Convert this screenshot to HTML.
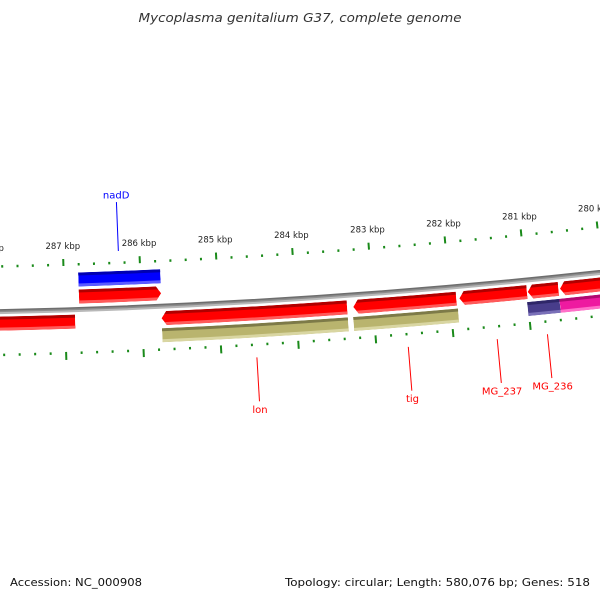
<!DOCTYPE html>
<html><head><meta charset="utf-8"><style>
html,body{margin:0;padding:0;background:#fff;}
svg{display:block;font-family:"DejaVu Sans","Liberation Sans",sans-serif;}
</style></head><body>
<svg id="map" width="600" height="600" viewBox="0 0 600 600" xmlns="http://www.w3.org/2000/svg">
<rect width="600" height="600" fill="#fff"/>
<text x="300" y="22" text-anchor="middle" font-size="12.5" font-style="italic" fill="#333" textLength="323" lengthAdjust="spacingAndGlyphs">Mycoplasma genitalium G37, complete genome</text>
<g id="g-ticks"></g>
<g id="g-backbone"></g>
<g id="g-feat"></g>
<g id="g-labels"></g>
<text x="10" y="586" font-size="11" fill="#111" textLength="132" lengthAdjust="spacingAndGlyphs">Accession: NC_000908</text>
<text x="590" y="586" text-anchor="end" font-size="11" fill="#111" textLength="305" lengthAdjust="spacingAndGlyphs">Topology: circular; Length: 580,076 bp; Genes: 518</text>
</svg>
<script>
// ---- data (kbp) ----
const majorTicks = [288, 287, 286, 285, 284, 283, 282, 281, 280];
const tickLabels = ["288 kbp","287 kbp","286 kbp","285 kbp","284 kbp","283 kbp","282 kbp","281 kbp","280 kbp"];
const tickStart = 289.8, tickEnd = 279.4, minorStep = 0.2;
const featStart = [286.81, 286.81, 288.6, 285.75, 283.26, 281.88, 280.99, 280.57, 285.75, 283.27, 281.01, 280.59];
const featEnd   = [285.74, 285.74, 286.87, 283.34, 281.92, 281.00, 280.59, 279.3, 283.34, 281.91, 280.59, 279.3];
const featStrand= [0, 1, 0, -1, -1, -1, -1, -1, 0, 0, 0, 0];
const featTrack = [0, 1, 2, 2, 2, 2, 2, 2, 3, 3, 3, 3];
const featType  = ["gene","cds","cds","cds","cds","cds","cds","cds","other","other","purple","pink"];
const labelText = ["nadD","lon","tig","MG_237","MG_236"];
const labelFeat = [1, 3, 4, 5, 6];
const labelSide = [-1, 1, 1, 1, 1];

// ---- geometry ----
const CX = -150, CY = -6586.7, R = 6900, K0 = 289.79, S = 77/6900;
const NS = "http://www.w3.org/2000/svg";
function ang(k){ return (K0 - k) * S; }
function pt(r, k){ const a = ang(k); return [CX + r*Math.sin(a), CY + r*Math.cos(a)]; }
function f(p){ return p[0].toFixed(2)+","+p[1].toFixed(2); }
function mk(tag, attrs, parent){ const e = document.createElementNS(NS, tag); for (const k in attrs) e.setAttribute(k, attrs[k]); parent.appendChild(e); return e; }
function arcPath(r, k1, k2){ return "M"+f(pt(r,k1))+" A"+r+","+r+" 0 0 0 "+f(pt(r,k2)); }
const trackR = [[R-37, R-23], [R-20, R-6], [R+5, R+19], [R+22, R+36]];
const colors = {
  gene:["#0000b0","#0000ff","#5a5aff"], cds:["#b00000","#ff0000","#ff5a5a"],
  other:["#7d7a48","#b9b46e","#d9d6a2"], purple:["#2e2668","#483d8b","#7a70b8"],
  pink:["#b00a72","#ee1aa0","#ff70c8"]
};

// ---- ticks ----
const gT = document.getElementById('g-ticks');
const nT = Math.round((tickStart - tickEnd)/minorStep);
for (let i = 0; i <= nT; i++) {
  const k = +(tickStart - i*minorStep).toFixed(2);
  const major = Math.abs(k - Math.round(k)) < 1e-6;
  // outer ring
  let a = mk('line', {x1:pt(R-44,k)[0], y1:pt(R-44,k)[1], x2:pt(major?R-51:R-46.5,k)[0], y2:pt(major?R-51:R-46.5,k)[1], stroke:"#1a8a1a", "stroke-width":2}, gT);
  
  
  let b = mk('line', {x1:pt(R+42,k)[0], y1:pt(R+42,k)[1], x2:pt(major?R+50:R+44.5,k)[0], y2:pt(major?R+50:R+44.5,k)[1], stroke:"#1a8a1a", "stroke-width":2}, gT);
  
  
}
majorTicks.forEach((k, i) => {
  const p = pt(R-64, k);
  const t = mk('text', {x:p[0], y:p[1]+3, "text-anchor":"middle", "font-size":"8.5", fill:"#222"}, gT);
  t.textContent = tickLabels[i];
  
  
});

// ---- backbone ----
const gB = document.getElementById('g-backbone');
[[R-1.5,"#6e6e6e",2],[R,"#8c8c8c",2],[R+1.5,"#b8b8b8",2]].forEach(s => {
  const e = mk('path', {d:arcPath(s[0], 291, 278), fill:"none", stroke:s[1], "stroke-width":s[2]}, gB);
  
  
});

// ---- features ----
const gF = document.getElementById('g-feat');
const defs = mk('defs', {}, document.getElementById('map'));
featStart.forEach((k1, i) => {
  const k2 = featEnd[i], r1 = trackR[featTrack[i]][0], r2 = trackR[featTrack[i]][1], rm = (r1+r2)/2;
  const st = featStrand[i], dk = 5/(R*S);
  let d;
  if (st === -1) {
    const kb = k1 - dk;
    d = "M"+f(pt(r1,kb))+" A"+r1+","+r1+" 0 0 0 "+f(pt(r1,k2))+" L"+f(pt(r2,k2))+" A"+r2+","+r2+" 0 0 1 "+f(pt(r2,kb))+" L"+f(pt(rm,k1))+" Z";
  } else if (st === 1) {
    const kb = k2 + dk;
    d = "M"+f(pt(r1,k1))+" A"+r1+","+r1+" 0 0 0 "+f(pt(r1,kb))+" L"+f(pt(rm,k2))+" L"+f(pt(r2,kb))+" A"+r2+","+r2+" 0 0 1 "+f(pt(r2,k1))+" Z";
  } else {
    d = "M"+f(pt(r1,k1))+" A"+r1+","+r1+" 0 0 0 "+f(pt(r1,k2))+" L"+f(pt(r2,k2))+" A"+r2+","+r2+" 0 0 1 "+f(pt(r2,k1))+" Z";
  }
  const c = colors[featType[i]];
  const cp = mk('clipPath', {id:"cp"+i}, defs);
  mk('path', {d:d}, cp);
  const g = mk('g', {"clip-path":"url(#cp"+i+")"}, gF);
  
  
  mk('path', {d:d, fill:c[1]}, g);
  mk('path', {d:arcPath(r1+1.5, k1+0.2, k2-0.2), fill:"none", stroke:c[0], "stroke-width":3}, g);
  mk('path', {d:arcPath(r2-1.5, k1+0.2, k2-0.2), fill:"none", stroke:c[2], "stroke-width":3}, g);
});

// ---- labels ----
const gL = document.getElementById('g-labels');
labelText.forEach((txt, i) => {
  const fi = labelFeat[i], k = (featStart[fi] + featEnd[fi])/2, side = labelSide[i];
  const col = featType[fi] === 'cds' && i > 0 ? "#ff0000" : "#0000ff";
  const a = side < 0 ? R-57 : R+56, b = side < 0 ? R-106 : R+100, c = side < 0 ? R-113 : R+108;
  const p1 = pt(a,k), p2 = pt(b,k), p3 = pt(c,k);
  const ln = mk('line', {x1:p1[0], y1:p1[1], x2:p2[0], y2:p2[1], stroke:col, "stroke-width":1}, gL);
  
  
  const t = mk('text', {x:p3[0], y:p3[1]+3.5, "text-anchor":"middle", "font-size":"10", fill:col}, gL);
  t.textContent = txt;
  
  
});
</script>
</body></html>
